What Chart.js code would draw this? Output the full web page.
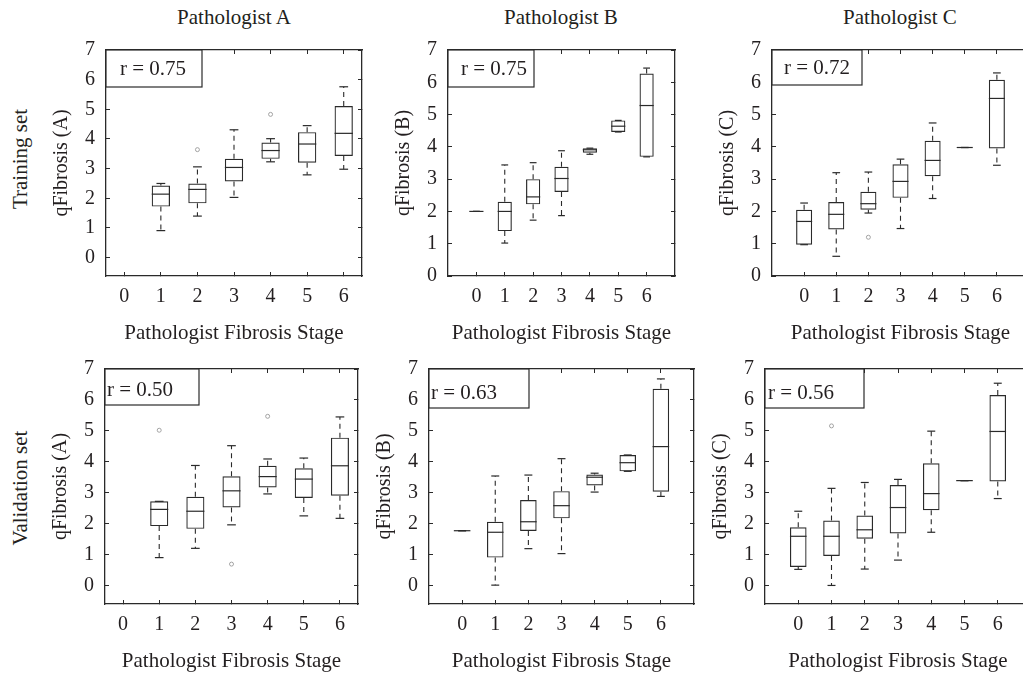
<!DOCTYPE html>
<html><head><meta charset="utf-8">
<script src="https://cdn.jsdelivr.net/npm/chart.js@4.4.0/dist/chart.umd.min.js"></script>
<style>
html,body{margin:0;padding:0;background:#fff;overflow:hidden;width:1023px;height:675px;position:relative;}
canvas{position:absolute;}
.lbl{position:absolute;font-family:'Liberation Serif',serif;font-size:21px;color:#231f20;white-space:nowrap;transform:translate(-50%,-50%);line-height:1;}
.rot{transform:translate(-50%,-50%) rotate(-90deg);}
</style></head><body>
<div class="lbl" style="left:234px;top:17px">Pathologist A</div>
<div class="lbl" style="left:561px;top:17px">Pathologist B</div>
<div class="lbl" style="left:900px;top:17px">Pathologist C</div>
<div class="lbl rot" style="left:20px;top:159px">Training set</div>
<div class="lbl rot" style="left:20px;top:488px">Validation set</div>
<script>
// ---------- data ----------
const stages = [0, 1, 2, 3, 4, 5, 6];
const yTicks = [0, 1, 2, 3, 4, 5, 6, 7];

// Training set – Pathologist A
const trainA_lo  = [null, 0.91, 1.40, 2.03, 3.23, 2.79, 2.98];
const trainA_q1  = [null, 1.72, 1.83, 2.57, 3.33, 3.20, 3.43];
const trainA_med = [null, 2.14, 2.30, 3.04, 3.61, 3.83, 4.19];
const trainA_q3  = [null, 2.43, 2.50, 3.33, 3.88, 4.23, 5.11];
const trainA_hi  = [null, 2.50, 3.06, 4.31, 4.01, 4.45, 5.76];
const trainA_outStage = [2, 4];
const trainA_outVal   = [3.64, 4.83];

// Training set – Pathologist B
const trainB_lo  = [2.00, 1.02, 1.73, 1.87, 3.77, 4.46, 3.69];
const trainB_q1  = [2.00, 1.39, 2.22, 2.60, 3.82, 4.46, 3.69];
const trainB_med = [2.00, 2.00, 2.45, 3.02, 3.91, 4.64, 5.28];
const trainB_q3  = [2.00, 2.30, 3.00, 3.38, 3.96, 4.82, 6.27];
const trainB_hi  = [2.00, 3.44, 3.51, 3.88, 3.96, 4.82, 6.44];
const trainB_outStage = [];
const trainB_outVal   = [];

// Training set – Pathologist C
const trainC_lo  = [0.97, 0.61, 1.95, 1.47, 2.40, 3.98, 3.43];
const trainC_q1  = [0.97, 1.44, 2.05, 2.42, 3.09, 3.98, 3.95];
const trainC_med = [1.69, 1.91, 2.24, 2.93, 3.58, 3.98, 5.50];
const trainC_q3  = [2.05, 2.29, 2.61, 3.46, 4.19, 3.98, 6.08];
const trainC_hi  = [2.26, 3.20, 3.22, 3.62, 4.74, 3.98, 6.29];
const trainC_outStage = [2];
const trainC_outVal   = [1.20];

// Validation set – Pathologist A
const validA_lo  = [null, 0.90, 1.20, 1.96, 2.96, 2.25, 2.17];
const validA_q1  = [null, 1.92, 1.83, 2.52, 3.17, 2.83, 2.90];
const validA_med = [null, 2.46, 2.40, 3.06, 3.52, 3.44, 3.87];
const validA_q3  = [null, 2.72, 2.87, 3.53, 3.87, 3.79, 4.78];
const validA_hi  = [null, 2.72, 3.88, 4.52, 4.09, 4.12, 5.45];
const validA_outStage = [1, 3, 4];
const validA_outVal   = [5.02, 0.69, 5.47];

// Validation set – Pathologist B
const validB_lo  = [1.77, 0.01, 1.19, 1.03, 3.02, 3.69, 2.88];
const validB_q1  = [1.77, 0.90, 1.76, 2.17, 3.23, 3.69, 3.03];
const validB_med = [1.77, 1.72, 2.06, 2.58, 3.50, 3.97, 4.49];
const validB_q3  = [1.77, 2.06, 2.76, 3.05, 3.59, 4.22, 6.36];
const validB_hi  = [1.77, 3.54, 3.57, 4.10, 3.63, 4.22, 6.68];
const validB_outStage = [];
const validB_outVal   = [];

// Validation set – Pathologist C
const validC_lo  = [0.52, 0.00, 0.53, 0.82, 1.72, 3.39, 2.81];
const validC_q1  = [0.60, 0.95, 1.51, 1.68, 2.43, 3.39, 3.36];
const validC_med = [1.59, 1.59, 1.80, 2.52, 2.97, 3.39, 4.98];
const validC_q3  = [1.88, 2.10, 2.26, 3.25, 3.95, 3.39, 6.16];
const validC_hi  = [2.40, 3.14, 3.33, 3.43, 4.99, 3.39, 6.54];
const validC_outStage = [1];
const validC_outVal   = [5.16];

const rValues = ['0.75', '0.75', '0.72', '0.50', '0.63', '0.56'];
const yTitles = ['qFibrosis (A)', 'qFibrosis (B)', 'qFibrosis (C)', 'qFibrosis (A)', 'qFibrosis (B)', 'qFibrosis (C)'];
const xTitle = 'Pathologist Fibrosis Stage';

// ---------- layout ----------
const YW = 56, PADT = 20, PADR = 6, XH = 70;
const FONT = "'Liberation Serif', serif";
const INK = '#231f20';
const LINE = '#2a2a2a';

const panels = [
  {d:[trainA_lo,trainA_q1,trainA_med,trainA_q3,trainA_hi,trainA_outStage,trainA_outVal], l:106, t:43,  r:362,  b:276, xr:[-0.5,6.5], yr:[-0.62,7], rb:{w:96, h:37, pad:14, ty:19}},
  {d:[trainB_lo,trainB_q1,trainB_med,trainB_q3,trainB_hi,trainB_outStage,trainB_outVal], l:448, t:43,  r:675,  b:276, xr:[-1,7],     yr:[0,7],     rb:{w:86, h:37, pad:13, ty:19}},
  {d:[trainC_lo,trainC_q1,trainC_med,trainC_q3,trainC_hi,trainC_outStage,trainC_outVal], l:772, t:43,  r:1029, b:276, xr:[-1,7],     yr:[0,7],     rb:{w:90, h:35, pad:12, ty:18}},
  {d:[validA_lo,validA_q1,validA_med,validA_q3,validA_hi,validA_outStage,validA_outVal], l:105, t:362, r:358,  b:604, xr:[-0.5,6.5], yr:[-0.6,7],  rb:{w:94, h:36, pad:2,  ty:21}},
  {d:[validB_lo,validB_q1,validB_med,validB_q3,validB_hi,validB_outStage,validB_outVal], l:429, t:362, r:694,  b:604, xr:[-1,7],     yr:[-0.6,7],  rb:{w:100,h:39, pad:2,  ty:24}},
  {d:[validC_lo,validC_q1,validC_med,validC_q3,validC_hi,validC_outStage,validC_outVal], l:765, t:362, r:1031, b:604, xr:[-1,7],     yr:[-0.6,7],  rb:{w:99, h:39, pad:3,  ty:24}},
];

const rBoxPlugin = {
  id: 'rbox',
  afterDraw(chart, args, o) {
    const {ctx, chartArea: a} = chart;
    ctx.save();
    ctx.fillStyle = '#fff';
    ctx.fillRect(a.left, a.top, o.w, o.h);
    ctx.strokeStyle = LINE; ctx.lineWidth = 1.2;
    ctx.strokeRect(a.left, a.top, o.w, o.h);
    ctx.font = "21px 'Liberation Serif', serif";
    ctx.fillStyle = INK; ctx.textBaseline = 'middle'; ctx.textAlign = 'left';
    ctx.fillText(o.text, a.left + o.pad, a.top + o.ty);
    ctx.restore();
  }
};

function unitPx(chart, u) {
  const sx = chart.scales.x;
  return Math.abs(sx.getPixelForValue(u) - sx.getPixelForValue(0));
}

function axisBase(min, max, vals) {
  return {
    type: 'linear', min, max, offset: false,
    afterBuildTicks: sc => { sc.ticks = vals.map(v => ({value: v})); },
    grid: {drawOnChartArea: false, drawTicks: true, tickLength: -4, color: LINE, lineWidth: 1, offset: false},
    border: {display: true, color: LINE, width: 1.3},
  };
}

panels.forEach((p, idx) => {
  const [lo, q1, med, q3, hi, oS, oV] = p.d;
  const W = p.r - p.l + YW + PADR, H = p.b - p.t + PADT + XH;
  const cv = document.createElement('canvas');
  cv.width = W; cv.height = H;
  cv.style.width = W + 'px'; cv.style.height = H + 'px';
  cv.style.left = (p.l - YW) + 'px'; cv.style.top = (p.t - PADT) + 'px';
  document.body.appendChild(cv);

  const boxes = [], meds = [], whisk = [], caps = [];
  stages.forEach((s, i) => {
    if (med[i] == null) return;
    boxes.push({x: s, y: [q1[i], q3[i]]});
    meds.push({x: s, y: med[i]});
    whisk.push({x: s, y: q3[i]}, {x: s, y: hi[i]}, {x: s, y: null},
               {x: s, y: q1[i]}, {x: s, y: lo[i]}, {x: s, y: null});
    caps.push({x: s, y: hi[i]}, {x: s, y: lo[i]});
  });
  const outs = oS.map((s, i) => ({x: s, y: oV[i]}));

  new Chart(cv, {
    type: 'bar',
    data: {
      datasets: [
        {type: 'line', data: meds, showLine: false, pointStyle: 'line', pointRotation: 0,
         pointRadius: c => unitPx(c.chart, 0.25), pointBorderColor: LINE, pointBorderWidth: 1.2, pointHoverRadius: 0},
        {type: 'line', data: caps, showLine: false, pointStyle: 'line', pointRotation: 0,
         pointRadius: c => unitPx(c.chart, 0.12), pointBorderColor: LINE, pointBorderWidth: 1.2},
        {type: 'line', data: whisk, spanGaps: false, borderColor: LINE, borderWidth: 1.1,
         borderDash: [5, 4], pointRadius: 0, tension: 0, fill: false},
        {type: 'line', data: outs, showLine: false, pointStyle: 'circle', pointRadius: 2,
         pointBorderColor: '#9a9a9a', pointBackgroundColor: 'rgba(0,0,0,0)', pointBorderWidth: 0.9},
        {type: 'bar', data: boxes, backgroundColor: 'rgba(255,255,255,0)', borderColor: LINE,
         borderWidth: 1.2, borderSkipped: false, barPercentage: 0.5, categoryPercentage: 1},
      ]
    },
    options: {
      responsive: false, animation: false,
      layout: {padding: {left: 0, top: PADT, right: PADR, bottom: 0}},
      plugins: {
        legend: {display: false}, tooltip: {enabled: false},
        rbox: {text: 'r = ' + rValues[idx], ...p.rb},
      },
      scales: {
        x: {...axisBase(p.xr[0], p.xr[1], stages), position: 'bottom',
            ticks: {padding: 13, font: {family: FONT, size: 20}, color: INK, autoSkip: false, maxRotation: 0},
            title: {display: true, text: xTitle, font: {family: FONT, size: 21}, color: INK, padding: 0},
            afterFit: sc => { sc.height = XH; }},
        y: {...axisBase(p.yr[0], p.yr[1], yTicks), position: 'left',
            ticks: {padding: 15, font: {family: FONT, size: 20}, color: INK},
            title: {display: true, text: yTitles[idx], font: {family: FONT, size: 20}, color: INK, padding: 0},
            afterFit: sc => { sc.width = YW; }},
        x2: {...axisBase(p.xr[0], p.xr[1], stages), axis: 'x', position: 'top',
             ticks: {display: false}, afterFit: sc => { sc.height = 0; }},
        y2: {...axisBase(p.yr[0], p.yr[1], yTicks), axis: 'y', position: 'right',
             ticks: {display: false}, afterFit: sc => { sc.width = 0; }},
      }
    },
    plugins: [rBoxPlugin]
  });
});
</script>
</body></html>
